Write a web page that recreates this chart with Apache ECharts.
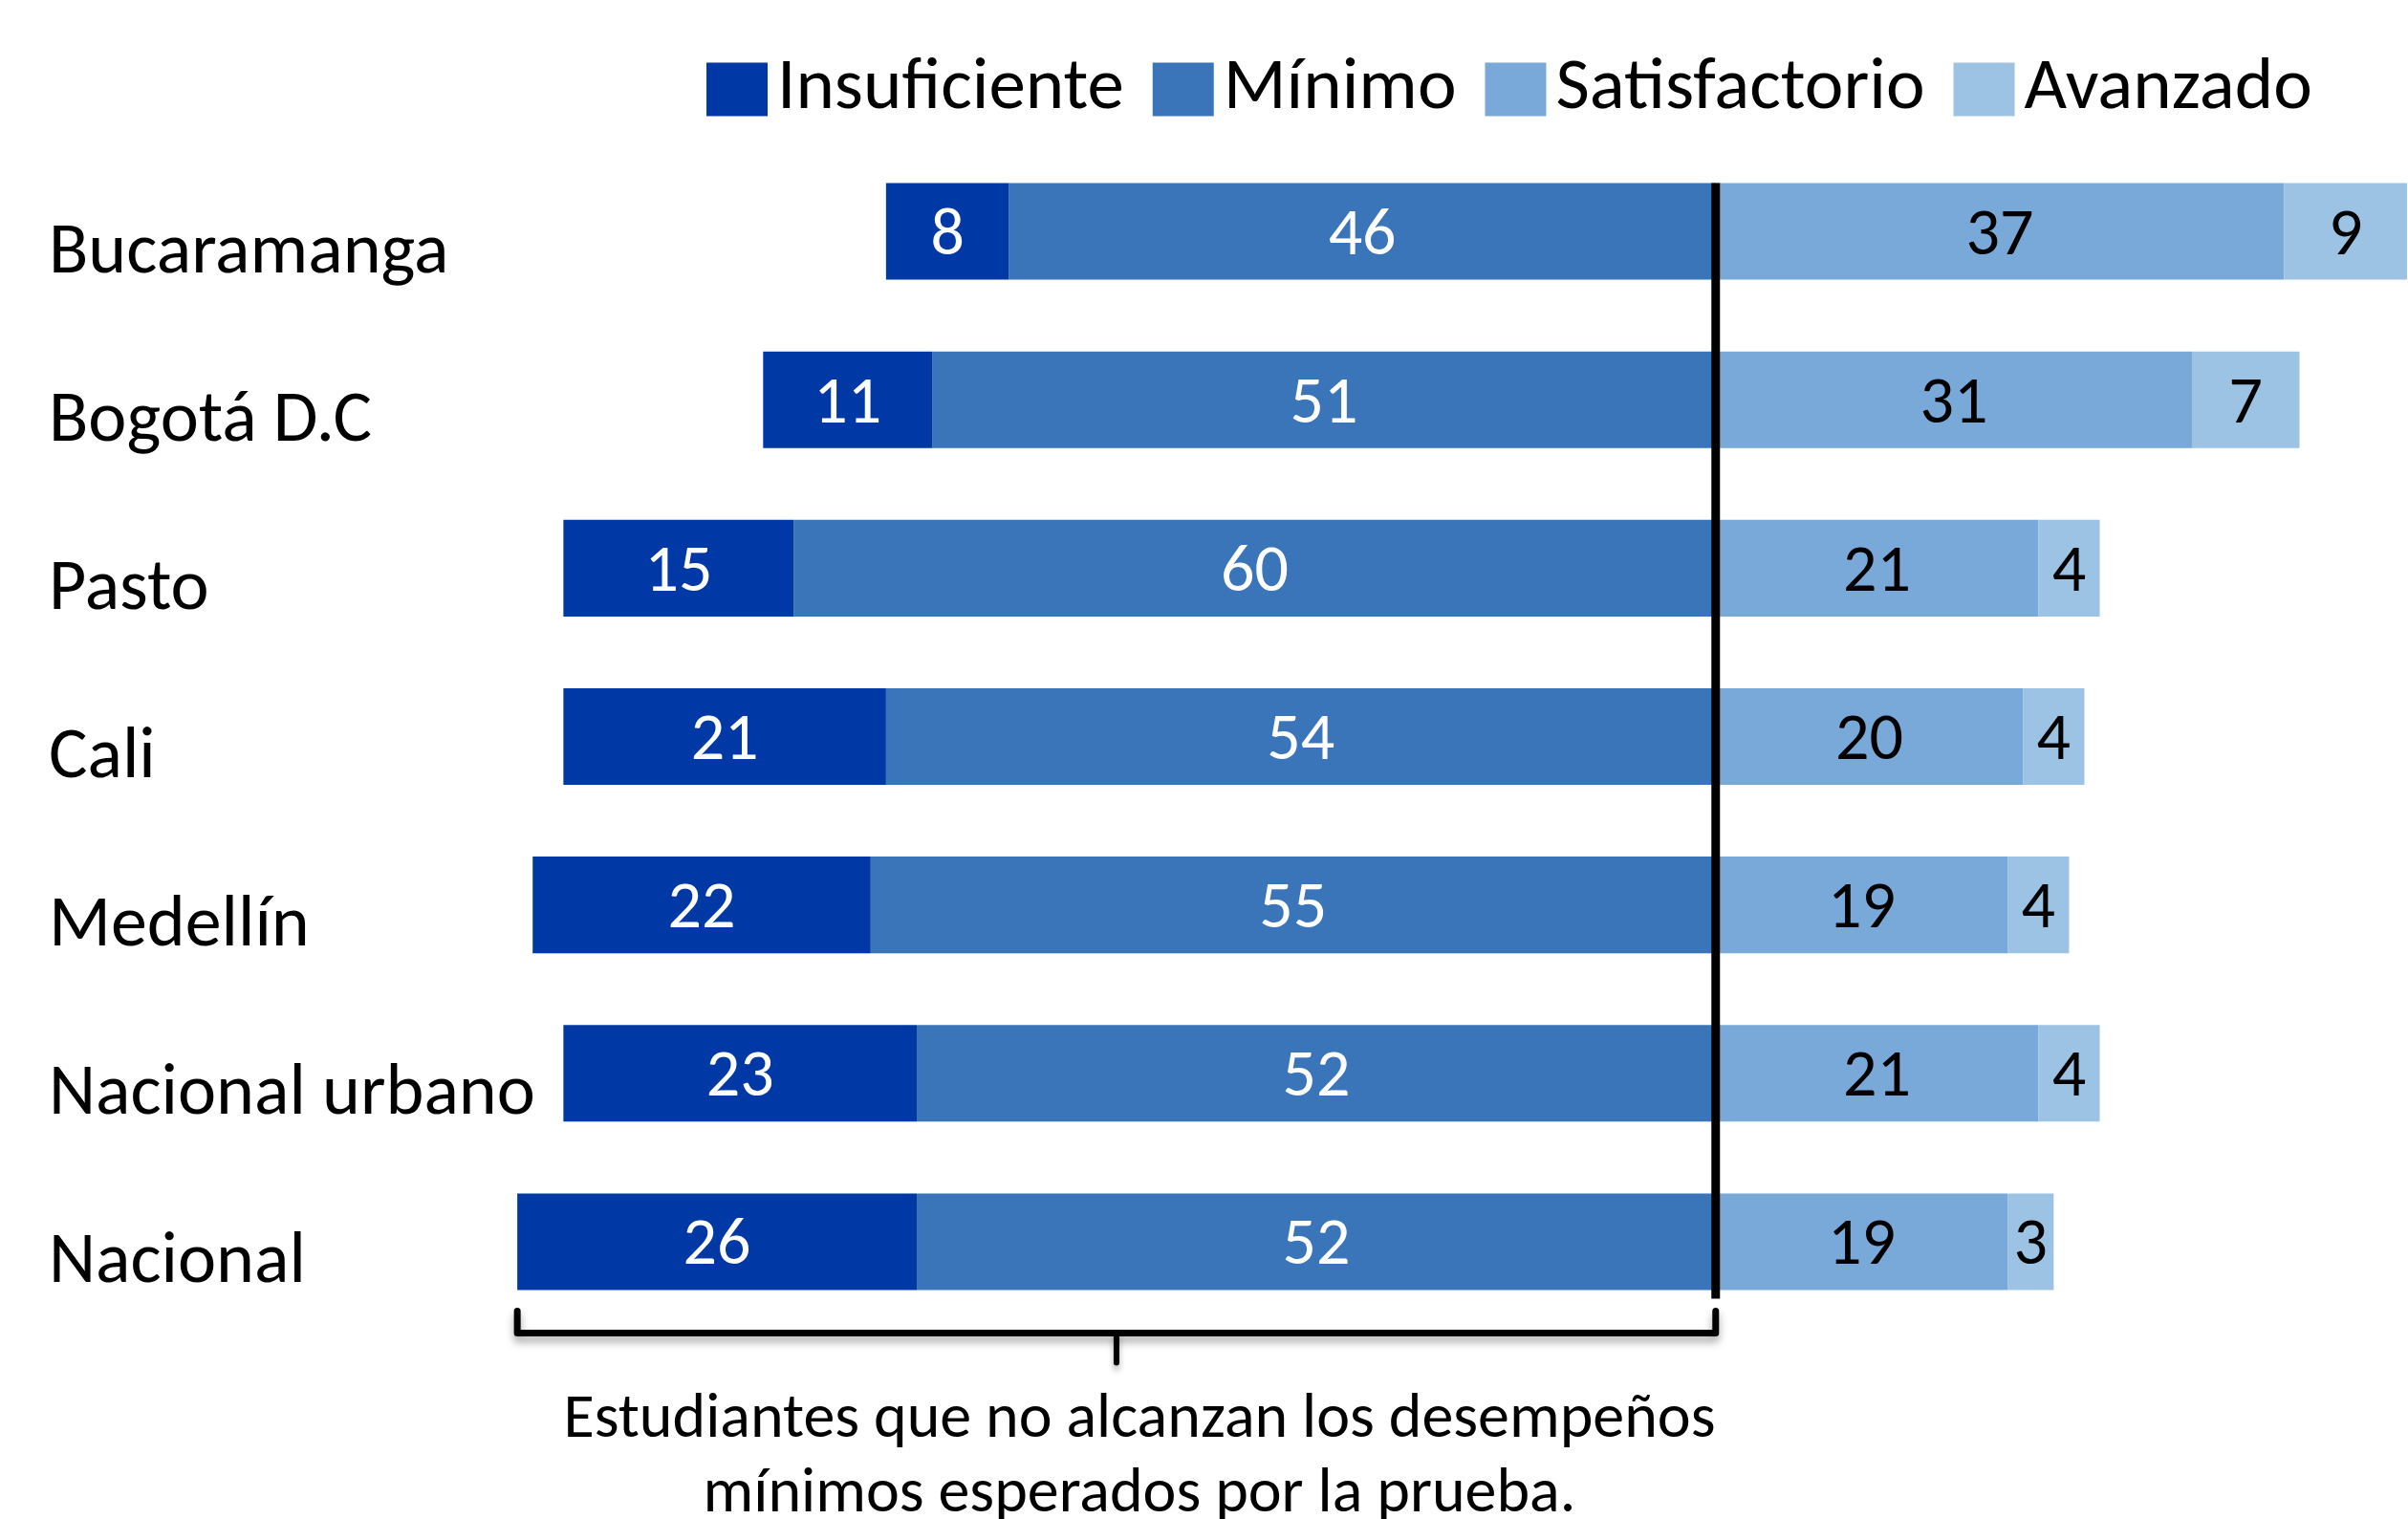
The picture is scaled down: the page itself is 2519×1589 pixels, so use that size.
<!DOCTYPE html>
<html><head><meta charset="utf-8">
<script src="https://cdn.jsdelivr.net/npm/echarts@6/dist/echarts.min.js"></script>
<style>html,body{margin:0;padding:0;background:#fff;overflow:hidden}#c{width:2519px;height:1589px}</style>
</head><body><div id="c"></div>
<script>
// ---- data ----
const categories = ['Bucaramanga', 'Bogotá D.C', 'Pasto', 'Cali', 'Medellín', 'Nacional urbano', 'Nacional'];
const seriesNames = ['Insuficiente', 'Mínimo', 'Satisfactorio', 'Avanzado'];
const insuficiente = [8, 11, 15, 21, 22, 23, 26];
const minimo = [46, 51, 60, 54, 55, 52, 52];
const satisfactorio = [37, 31, 21, 20, 19, 21, 19];
const avanzado = [9, 7, 4, 4, 4, 4, 3];
const noteLines = ['Estudiantes que no alcanzan los desempeños', 'mínimos esperados por la prueba.'];

// ---- style ----
const FONT = 'Carlito, Lato, sans-serif';
const COL = { ins: '#0039A6', min: '#3B75B9', sat: '#78A9D9', avz: '#9CC3E3' };
const GAP = 0.426;

const chart = echarts.init(document.getElementById('c'), null, { renderer: 'canvas', width: 2519, height: 1589 });
const neg = a => a.map(v => -v);
function lbl(color) {
  return { show: true, position: 'inside', color: color, fontSize: 70, fontFamily: FONT, offset: [0, 6],
    formatter: p => String(Math.abs(p.value)) };
}
function bar(name, data, color, labelColor) {
  return { name: name, type: 'bar', stack: 'total', data: data, barCategoryGap: (GAP * 100) + '%',
    itemStyle: { color: color }, label: lbl(labelColor), emphasis: { disabled: true } };
}

chart.setOption({
  animation: false,
  backgroundColor: '#ffffff',
  legend: {
    data: seriesNames, left: 734, top: 50, icon: 'rect', itemWidth: 64, itemHeight: 56, itemGap: 30,
    selectedMode: false,
    textStyle: { fontSize: 77, fontFamily: FONT, color: '#000', padding: [6, 0, 0, 5] }
  },
  grid: { left: 509, right: 1, top: 154, bottom: 202 },
  xAxis: { type: 'value', min: -80, max: 45, show: false },
  yAxis: {
    type: 'category', data: categories, inverse: true,
    axisLine: { show: false }, axisTick: { show: false }, splitLine: { show: false },
    axisLabel: { align: 'left', verticalAlign: 'top', lineHeight: 47, margin: 458, fontSize: 76,
      fontFamily: FONT, color: '#000' }
  },
  series: [
    bar('Mínimo', neg(minimo), COL.min, '#fff'),
    bar('Insuficiente', neg(insuficiente), COL.ins, '#fff'),
    bar('Satisfactorio', satisfactorio, COL.sat, '#000'),
    bar('Avanzado', avanzado, COL.avz, '#000')
  ]
});

// ---- annotations placed through the axes ----
const last = categories.length - 1;
const x0 = chart.convertToPixel({ xAxisIndex: 0 }, 0);
const yFirst = chart.convertToPixel({ yAxisIndex: 0 }, categories[0]);
const yLast = chart.convertToPixel({ yAxisIndex: 0 }, categories[last]);
const band = (yLast - yFirst) / last;
const half = band * (1 - GAP) / 2;
const xl = chart.convertToPixel({ xAxisIndex: 0 }, -(insuficiente[last] + minimo[last]));
const barBottom = yLast + half;
const bTop = barBottom + 22, bH = barBottom + 45, bTick = barBottom + 76;
const xc = (xl + x0) / 2;

chart.setOption({
  graphic: [
    { type: 'line', z: 100, shape: { x1: x0, y1: yFirst - half, x2: x0, y2: barBottom + 9 },
      style: { stroke: '#000', lineWidth: 9 } },
    { type: 'polyline', z: 100, shape: { points: [[xl, bTop], [xl, bH], [x0, bH], [x0, bTop]] },
      style: { stroke: '#000', lineWidth: 7, fill: null, lineJoin: 'round', lineCap: 'round',
        shadowColor: 'rgba(0,0,0,0.35)', shadowBlur: 8, shadowOffsetY: 6 } },
    { type: 'line', z: 100, shape: { x1: xc, y1: bH, x2: xc, y2: bTick },
      style: { stroke: '#000', lineWidth: 6, lineCap: 'round',
        shadowColor: 'rgba(0,0,0,0.3)', shadowBlur: 6, shadowOffsetY: 5 } },
    { type: 'text', z: 100, x: xc + 24, y: bTick + 22,
      style: { text: noteLines.join('\n'), align: 'center', verticalAlign: 'top',
        fontSize: 66, lineHeight: 78, fontFamily: FONT, fill: '#000' } }
  ]
});
</script>
</body></html>
